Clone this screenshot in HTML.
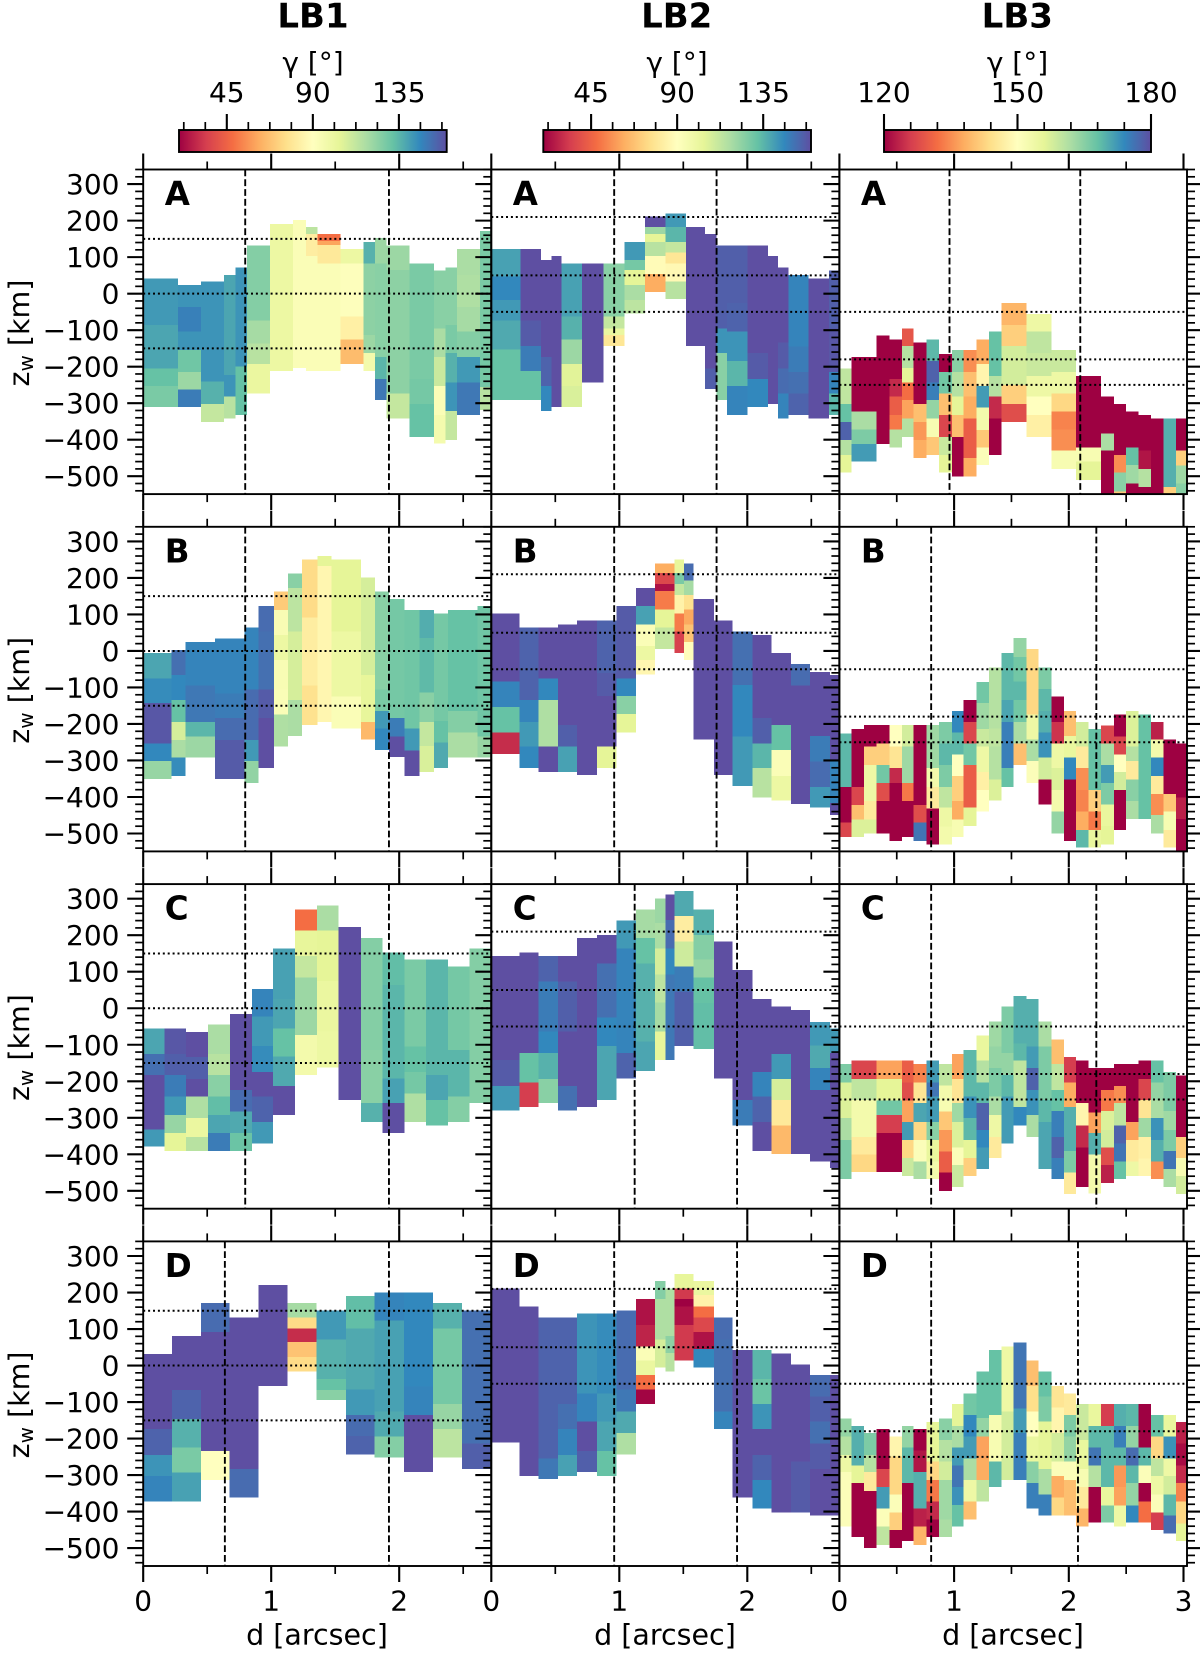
<!DOCTYPE html>
<html>
<head>
<meta charset="utf-8">
<title>Inclination maps LB1 LB2 LB3</title>
<style>
html,body{margin:0;padding:0;background:#fff;width:1200px;height:1660px;overflow:hidden}
svg{display:block;filter:blur(0.35px)}
text{font-family:"DejaVu Sans","Liberation Sans",sans-serif;fill:#000}
</style>
</head>
<body>
<svg id="fig" xmlns="http://www.w3.org/2000/svg" width="1200" height="1660" viewBox="0 0 1200 1660">
<rect x="0" y="0" width="1200" height="1660" fill="#fff"/>
<defs id="defs"></defs>
<text x="313" y="27.5" font-size="34" font-weight="700" text-anchor="middle">LB1</text>
<text x="676.7" y="27.5" font-size="34" font-weight="700" text-anchor="middle">LB2</text>
<text x="1017.3" y="27.5" font-size="34" font-weight="700" text-anchor="middle">LB3</text>
<text x="313" y="72" font-size="28" text-anchor="middle">γ [°]</text>
<text x="677" y="72" font-size="28" text-anchor="middle">γ [°]</text>
<text x="1017.5" y="72" font-size="28" text-anchor="middle">γ [°]</text>
<text x="317" y="1644.5" font-size="28.5" text-anchor="middle">d [arcsec]</text>
<text x="665" y="1644.5" font-size="28.5" text-anchor="middle">d [arcsec]</text>
<text x="1013" y="1644.5" font-size="28.5" text-anchor="middle">d [arcsec]</text>
<g id="heat"></g>
<g id="axes"></g>
<g id="bars"></g>
</svg>
<script>
// Each column: [d start (arcsec), d end (arcsec), z edges top to bottom (km), gamma per cell (deg)]
const lb1a = [
[0,.27,[42,-86,-205,-253,-311],[142,139,132,128]],
[.27,.45,[24,-36,-104,-154,-214,-262,-311],[143,148,143,130,121,149]],
[.45,.63,[33,-241,-302,-351],[143,136,112]],
[.63,.72,[51,-223,-282,-342],[139,143,115]],
[.72,.81,[71,-200,-332],[143,132]],
[.81,.99,[132,-74,-136,-193,-273],[126,119,115,101]],
[.99,1.17,[191,-212],[100]],
[1.17,1.27,[202,-203],[93]],
[1.27,1.36,[182,163,103,-212],[114,82,93]],
[1.36,1.54,[163,144,133,83,-212],[48,60,80,93]],
[1.54,1.72,[122,83,-63,-125,-193],[100,91,83,66]],
[1.72,1.81,[142,83,-113,-163,-212],[136,124,121,97]],
[1.81,1.90,[152,83,-173,-234,-291],[121,125,135,150]],
[1.90,2.08,[132,65,-273,-342],[121,124,112]],
[2.08,2.27,[83,-234,-302,-392],[128,129,132]],
[2.27,2.36,[63,-95,-173,-253,-332,-410],[125,118,111,93,96]],
[2.36,2.45,[72,-86,-163,-243,-321,-401],[125,128,136,143,112]],
[2.45,2.63,[122,51,-36,-104,-173,-243,-332],[118,117,119,126,142,150]],
[2.63,2.72,[172,-163,-255,-319],[128,129,115]]
];
const lb2a = [
[0,.23,[122,47,-17,-74,-153,-291],[140,146,142,138,132]],
[.23,.39,[122,-74,-143,-212,-291],[160,157,149,132]],
[.39,.47,[92,-173,-253,-321],[160,155,146]],
[.47,.55,[103,-311],[160]],
[.55,.71,[83,-63,-125,-193,-253,-311],[140,136,121,105,107]],
[.71,.875,[83,-243],[160]],
[.875,1.04,[83,-63,-95,-113,-143],[125,112,101,79]],
[1.04,1.20,[142,92,65,24,-17,-54],[142,129,104,118,114]],
[1.20,1.36,[211,182,163,142,103,54,5],[160,121,104,115,88,62]],
[1.36,1.52,[220,182,142,112,83,33,-15],[142,135,112,79,87,115]],
[1.52,1.67,[182,-143],[160]],
[1.67,1.76,[163,-205,-261],[160,156]],
[1.76,1.84,[132,-95,-163,-291],[156,143,125]],
[1.84,2.0,[132,-26,-104,-184,-253,-332],[156,155,143,135,147]],
[2.0,2.16,[132,-163,-234,-311],[160,157,146]],
[2.16,2.24,[103,-302],[160]],
[2.24,2.32,[72,-134,-205,-273,-342],[160,157,153,147]],
[2.32,2.48,[51,-145,-214,-273,-332],[147,149,152,155]],
[2.48,2.64,[42,-342],[160]],
[2.64,2.72,[63,-95,-214,-273,-332],[156,158,147,135]]
];
const lb3a = [
[0,.105,[-205,-302,-352,-401,-442,-490],[160,168,178,161,156]],
[.105,.325,[-174,-323,-372,-412,-460],[120,162,166,172]],
[.325,.436,[-114,-412],[120]],
[.436,.544,[-125,-234,-282,-332,-372,-421],[120,124,130,133,161]],
[.544,.648,[-95,-143,-203,-243,-291,-342,-392],[129,161,156,132,137,161]],
[.648,.759,[-134,-302,-352,-401,-450],[120,140,136,138]],
[.759,.869,[-125,-184,-243,-291,-342,-392,-442],[169,178,175,164,152,141]],
[.869,.98,[-165,-214,-273,-332,-392,-442,-490],[120,167,140,127,159,156]],
[.98,1.084,[-154,-214,-282,-332,-392,-501],[165,161,156,140,120]],
[1.084,1.195,[-154,-214,-282,-342,-401,-450,-501],[135,140,138,130,130,138]],
[1.195,1.305,[-125,-193,-253,-312,-373,-421,-469],[138,148,172,153,141,151]],
[1.305,1.413,[-104,-225,-282,-342,-442],[168,161,124,120]],
[1.413,1.631,[-26,-86,-143,-250,-302,-351],[139,142,158,142,128]],
[1.631,1.849,[-56,-104,-163,-225,-282,-332,-392],[154,160,159,154,150,147]],
[1.849,2.064,[-154,-214,-273,-323,-372,-430,-480],[159,154,143,134,135,152]],
[2.064,2.279,[-225,-421,-460,-510],[120,152,156]],
[2.279,2.392,[-282,-383,-430,-549],[120,162,120]],
[2.392,2.5,[-302,-442,-490,-542,-549],[120,135,165,141]],
[2.5,2.608,[-323,-421,-469,-520,-549],[120,168,163,120]],
[2.608,2.715,[-332,-430,-480,-529,-549],[120,122,161,120]],
[2.715,2.826,[-342,-549],[120]],
[2.826,2.933,[-342,-529,-549],[170,142]],
[2.933,3.04,[-342,-430,-471,-520,-549],[120,142,163,165]]
];
const lb1b = [
[0,.22,[-6,-75,-143,-253,-301,-351],[139,145,158,146,122]],
[.22,.33,[3,-66,-134,-194,-244,-292,-342],[152,146,132,108,118,145]],
[.33,.56,[24,-95,-194,-235,-292],[147,150,135,121]],
[.56,.79,[34,-116,-184,-244,-351],[147,149,153,157]],
[.79,.90,[64,-105,-244,-301,-361],[147,153,142,123]],
[.90,1.02,[123,53,-105,-184,-321],[153,152,157,160]],
[1.02,1.13,[163,112,44,-25,-105,-174,-262],[70,94,100,94,93,117]],
[1.13,1.24,[212,172,53,-134,-233],[125,114,108,118]],
[1.24,1.36,[251,91,-95,-203],[75,82,77]],
[1.36,1.47,[260,233,-194],[104,86]],
[1.47,1.70,[251,53,-125,-212],[104,100,93]],
[1.70,1.81,[201,-66,-194,-242],[108,103,65]],
[1.81,1.92,[163,-105,-164,-212,-271],[125,128,142,146]],
[1.92,2.04,[142,-184,-235,-291],[129,149,160]],
[2.04,2.16,[112,-212,-273,-342],[130,142,160]],
[2.16,2.27,[112,35,-114,-194,-260,-331],[137,134,125,112,107]],
[2.27,2.38,[103,-192,-251,-321],[129,132,138]],
[2.38,2.61,[112,-164,-224,-292],[132,126,118]],
[2.61,2.72,[123,-235,-292],[130,122]]
];
const lb2b = [
[0,.22,[103,-84,-153,-224,-282],[160,147,132,30]],
[.22,.37,[64,-134,-194,-262,-321],[155,147,142,146]],
[.37,.52,[64,-75,-134,-262,-331],[160,146,117,160]],
[.52,.67,[73,-203,-262,-331],[160,156,140]],
[.67,.825,[83,-340],[160]],
[.825,.98,[83,-61,-123,-262,-321],[155,157,160,104]],
[.98,1.13,[123,-75,-123,-173,-224],[157,146,125,104]],
[1.13,1.28,[172,123,73,14,-25,-64],[160,140,93,100,86]],
[1.28,1.43,[240,213,184,164,114,64,5],[62,37,24,51,104,112]],
[1.43,1.505,[251,213,184,153,103,53,-5],[103,128,112,84,51,35]],
[1.505,1.58,[240,193,153,114,73,25,-25],[153,119,77,61,68,89]],
[1.58,1.74,[142,-242],[160]],
[1.74,1.885,[83,-340],[160]],
[1.885,2.04,[53,-93,-235,-370],[152,146,142]],
[2.04,2.19,[44,-184,-253,-321,-401],[160,156,135,115]],
[2.19,2.34,[-5,-203,-271,-342,-410],[160,132,93,100]],
[2.34,2.49,[-36,-95,-419],[153,160]],
[2.49,2.645,[-57,-233,-303,-372,-429],[160,149,153,142]],
[2.645,2.72,[-66,-303,-417,-449],[160,147,160]]
];
const lb3b = [
[0,.105,[-226,-372,-470,-509],[169,120,127]],
[.105,.215,[-214,-372,-422,-461,-509],[120,127,140,157]],
[.215,.325,[-203,-262,-312,-411,-461,-500],[120,142,154,146,157]],
[.325,.436,[-203,-253,-312,-361,-411,-500],[120,142,167,128,120]],
[.436,.544,[-203,-262,-321,-361,-520],[150,145,124,120]],
[.544,.648,[-203,-262,-361,-411,-509],[158,163,133,120]],
[.648,.759,[-203,-422,-470,-520],[120,128,176]],
[.759,.869,[-203,-321,-372,-431,-530],[163,153,146,120]],
[.869,.98,[-194,-253,-312,-372,-429,-481,-530],[166,169,166,160,154,153]],
[.98,1.084,[-164,-224,-283,-342,-411,-461,-509],[174,169,150,142,138,152]],
[1.084,1.195,[-134,-194,-253,-312,-429,-479],[120,127,167,130,156]],
[1.195,1.305,[-85,-143,-214,-262,-331,-381,-440],[167,163,159,154,147,150]],
[1.305,1.413,[-45,-212,-262,-352,-410],[161,160,161,157]],
[1.413,1.52,[-5,-134,-194,-321,-372],[169,171,175,168]],
[1.52,1.631,[35,-16,-84,-134,-194,-253,-312],[164,167,169,167,162,140]],
[1.631,1.738,[5,-174,-242,-301,-361],[143,154,162,151]],
[1.738,1.849,[-45,-104,-164,-224,-292,-352,-420],[166,169,170,173,158,120]],
[1.849,1.956,[-125,-194,-253,-321,-381,-440,-500],[120,125,154,157,153,164]],
[1.956,2.064,[-164,-233,-292,-352,-520],[140,155,174,120]],
[2.064,2.172,[-194,-262,-321,-381,-440,-490,-539],[158,146,135,134,138,169]],
[2.172,2.279,[-214,-381,-440,-490,-539],[168,142,133,155]],
[2.279,2.392,[-204,-253,-312,-361,-420,-480,-530],[127,162,172,166,155,156]],
[2.392,2.5,[-174,-235,-283,-332,-381,-490],[120,127,150,158,120]],
[2.5,2.608,[-164,-262,-301,-352,-411,-460],[157,161,146,165,162]],
[2.608,2.715,[-174,-460],[168]],
[2.715,2.826,[-194,-242,-292,-342,-392,-449,-500],[123,153,174,146,135,162]],
[2.826,2.933,[-242,-392,-440,-490,-539],[120,141,152,146]],
[2.933,3.04,[-253,-401,-460,-549],[120,123,120]]
];
const lb1c = [
[0,.167,[-56,-125,-183,-332,-379],[139,152,160,142]],
[.167,.333,[-56,-125,-183,-242,-292,-342,-391],[158,156,149,142,122,104]],
[.333,.505,[-65,-134,-194,-242,-301,-352,-391],[160,156,160,117,101,115]],
[.505,.677,[-44,-125,-183,-242,-292,-342,-391],[118,115,125,133,139,149]],
[.677,.85,[-16,-224,-283,-342,-391],[160,153,138,131]],
[.85,1.016,[53,-23,-103,-174,-242,-312,-370],[147,142,145,160,155,142]],
[1.016,1.187,[163,25,-55,-132,-213,-292],[140,139,132,138,160]],
[1.187,1.357,[271,213,143,84,-73,-183],[48,103,112,121,97]],
[1.357,1.526,[281,213,75,-64,-162],[118,104,101,100]],
[1.526,1.70,[222,-251],[160]],
[1.70,1.87,[192,-114,-260,-311],[126,125,136]],
[1.87,2.04,[153,64,-192,-260,-341],[133,135,140,160]],
[2.04,2.21,[134,-105,-174,-233,-311],[128,132,129,117]],
[2.21,2.38,[134,-183,-251,-321],[135,139,132]],
[2.38,2.55,[114,-114,-242,-311],[129,135,126]],
[2.55,2.72,[163,-260],[126]]
];
const lb2c = [
[0,.22,[143,-142,-213,-280],[160,157,142]],
[.22,.37,[153,-123,-203,-271],[160,132,34]],
[.37,.52,[143,73,-64,-123,-194,-260],[155,149,146,136,125]],
[.52,.67,[143,73,-64,-213,-280],[160,156,160,152]],
[.67,.825,[192,-271],[160]],
[.825,.98,[201,123,-26,-103,-251],[160,152,146,139]],
[.98,1.13,[240,164,18,-123,-192],[142,147,147,155]],
[1.13,1.28,[271,192,123,-91,-172],[119,132,136,139]],
[1.28,1.36,[300,233,164,93,16,-64,-142],[121,118,108,114,119,103]],
[1.36,1.43,[311,242,164,93,-142],[160,153,146,150]],
[1.43,1.58,[321,253,183,114,46,-103],[138,82,110,149,156]],
[1.58,1.74,[271,201,134,84,14,-112],[136,126,122,132,133]],
[1.74,1.885,[183,-192],[160]],
[1.885,2.04,[105,-251,-321],[160,149]],
[2.04,2.19,[25,-174,-242,-311,-391],[160,147,155,160]],
[2.19,2.34,[5,-125,-194,-251,-321,-399],[160,142,108,80,65]],
[2.34,2.49,[-5,-399],[160]],
[2.49,2.645,[-37,-102,-164,-224,-420],[142,138,147,160]],
[2.645,2.72,[-55,-123,-438],[142,160]]
];
const lb3c = [
[0,.105,[-153,-203,-253,-301,-361,-468],[166,157,157,162,166]],
[.105,.325,[-143,-194,-251,-352,-400,-449],[127,160,153,146,143]],
[.325,.544,[-143,-194,-253,-292,-342,-449],[137,156,167,126,120]],
[.544,.648,[-143,-203,-253,-311,-361,-410,-459],[130,128,137,172,143,159]],
[.648,.759,[-153,-203,-260,-311,-361,-420,-468],[134,145,171,143,151,162]],
[.759,.869,[-143,-203,-242,-311,-361,-420,-468],[172,176,172,165,155,153]],
[.869,.98,[-153,-212,-253,-283,-333,-393,-450,-500],[160,153,152,141,136,130,120]],
[.98,1.084,[-125,-194,-260,-311,-381,-429,-489],[137,145,163,157,151,159]],
[1.084,1.195,[-114,-242,-301,-361,-410,-459],[169,173,169,156,142]],
[1.195,1.305,[-75,-143,-203,-260,-333,-381,-440],[155,161,169,178,174,172]],
[1.305,1.413,[-36,-105,-164,-242,-292,-352,-410],[163,164,166,162,154,146]],
[1.413,1.52,[5,-123,-183,-242,-370],[166,164,169,172]],
[1.52,1.631,[34,-96,-143,-271,-321],[170,169,160,174]],
[1.631,1.738,[25,-105,-164,-224,-292,-352],[170,172,178,173,162]],
[1.738,1.849,[-36,-105,-251,-311,-440],[162,166,169,171]],
[1.849,1.956,[-85,-153,-224,-281,-352,-410,-468],[140,160,168,175,178,175]],
[1.956,2.064,[-134,-203,-271,-391,-450,-509],[126,138,170,166,146]],
[2.064,2.172,[-143,-260,-321,-381,-489],[120,148,124,120]],
[2.172,2.279,[-163,-285,-342,-400,-507],[120,137,170,153]],
[2.279,2.392,[-163,-224,-281,-333,-381,-429,-479],[120,133,157,158,128,123]],
[2.392,2.5,[-153,-213,-260,-321,-370,-420,-468],[120,135,160,178,176,168]],
[2.5,2.608,[-153,-312,-361,-420,-459],[120,137,146,154]],
[2.608,2.715,[-143,-194,-251,-301,-352,-411,-459],[120,127,145,163,147,148]],
[2.715,2.826,[-143,-203,-251,-301,-361,-420,-468],[168,164,162,173,170,135]],
[2.826,2.933,[-174,-251,-281,-333,-391,-440,-489],[166,166,163,166,176,162]],
[2.933,3.04,[-184,-352,-410,-459,-509],[120,142,152,158]]
];
const lb1d = [
[0,.224,[32,-174,-245,-302,-372],[160,155,143,147]],
[.224,.45,[81,-67,-146,-225,-293,-372],[160,155,136,128,140]],
[.45,.675,[171,92,-234,-313],[153,160,90]],
[.675,.90,[131,-283,-361],[160,153]],
[.90,1.128,[220,-56],[160]],
[1.128,1.352,[171,131,102,64,23,-16],[119,75,30,68,75]],
[1.352,1.583,[151,72,-37,-67,-95],[142,136,132,125]],
[1.583,1.807,[191,102,-65,-135,-193,-243],[133,138,142,153,155]],
[1.807,2.036,[200,123,-126,-195,-252],[147,140,138,126]],
[2.036,2.266,[200,-58,-135,-292],[146,147,160]],
[2.266,2.49,[171,102,-106,-174,-252],[136,129,122,114]],
[2.49,2.72,[151,-213,-283],[152,156]]
];
const lb2d = [
[0,.22,[211,-211],[160]],
[.22,.37,[162,-302],[160]],
[.37,.52,[131,-254,-311],[155,150]],
[.52,.67,[131,-105,-174,-245,-302],[155,152,147,140]],
[.67,.825,[142,-76,-153,-234,-292],[143,147,160,156]],
[.825,.98,[142,-76,-153,-234,-302],[145,142,139,132]],
[.98,1.13,[151,-65,-126,-185,-243],[153,150,138,117]],
[1.13,1.28,[182,111,52,14,-26,-65,-105],[24,28,93,101,48,21]],
[1.28,1.36,[231,182,72,34,-5],[126,117,108,108]],
[1.36,1.43,[211,81,34,-16],[117,124,115]],
[1.43,1.58,[251,211,182,162,111,14],[103,33,20,24,33]],
[1.58,1.74,[231,193,162,131,92,45,-5],[101,84,48,37,24,146]],
[1.74,1.885,[131,72,-126,-174],[153,152,147]],
[1.885,2.04,[43,-362],[160]],
[2.04,2.19,[43,-37,-105,-174,-245,-313,-392],[135,131,143,160,155,146]],
[2.19,2.34,[33,-402],[160]],
[2.34,2.49,[3,-263,-402],[160,157]],
[2.49,2.645,[-26,-85,-153,-213,-283,-411],[153,156,152,157,160]],
[2.645,2.72,[-26,-411],[160]]
];
const lb3d = [
[0,.105,[-145,-195,-245,-292,-441],[164,161,154,151]],
[.105,.215,[-165,-274,-322,-470],[170,156,120]],
[.215,.325,[-185,-245,-292,-343,-500],[166,161,146,120]],
[.325,.436,[-174,-283,-333,-392,-441,-491],[120,127,172,151,160]],
[.436,.544,[-195,-249,-353,-402,-450,-500],[148,143,151,142,120]],
[.544,.648,[-165,-225,-322,-480],[164,169,120]],
[.648,.759,[-174,-233,-292,-392,-441,-491],[120,122,170,123,139]],
[.759,.869,[-154,-263,-313,-373,-421,-470],[156,143,133,124,120]],
[.869,.98,[-145,-204,-263,-313,-421,-470],[165,161,158,163,162]],
[.98,1.084,[-105,-165,-225,-274,-333,-382,-441],[156,162,172,176,173,168]],
[1.084,1.195,[-76,-135,-195,-254,-313,-373,-421],[167,174,172,162,154,140]],
[1.195,1.305,[-16,-144,-195,-254,-313,-373],[168,164,137,138,160]],
[1.305,1.413,[43,-135,-263,-333],[168,152,169]],
[1.413,1.52,[52,-126,-313],[154,158]],
[1.52,1.631,[63,-117,-185,-313],[176,172,175]],
[1.631,1.738,[14,-56,-126,-195,-263,-322,-392],[140,144,150,155,165,175]],
[1.738,1.849,[-16,-85,-153,-213,-283,-353,-411],[168,166,156,156,162,175]],
[1.849,1.956,[-56,-115,-185,-263,-303,-362,-411],[145,148,158,151,138,143]],
[1.956,2.064,[-76,-135,-195,-263,-313,-411],[146,166,164,151,140]],
[2.064,2.172,[-105,-204,-283,-333,-392,-441],[159,155,152,146,139]],
[2.172,2.279,[-105,-165,-225,-274,-333,-430],[155,169,176,161,120]],
[2.279,2.392,[-105,-165,-333,-383,-430],[126,169,155,166]],
[2.392,2.5,[-105,-165,-225,-274,-333,-383,-441],[170,175,169,136,137,154]],
[2.5,2.608,[-105,-165,-225,-274,-322,-383,-430],[169,164,177,169,164,174]],
[2.608,2.715,[-105,-225,-274,-322,-373,-430],[120,169,151,120,132]],
[2.715,2.826,[-135,-195,-254,-303,-353,-402,-450],[168,143,160,154,151,126]],
[2.826,2.933,[-135,-195,-254,-303,-353,-411,-460],[155,173,154,158,169,177]],
[2.933,3.04,[-154,-213,-274,-322,-373,-432,-480],[123,121,124,134,143,156]]
];

// Reference lines (vertical d in arcsec, horizontal z in km)
const lb1Dots = [150,0,-150];
const lb2Dots = [210,50,-50];
const lb3Dots = [-50,-180,-250];
const dashLb1a = [.797,1.92];
const dashLb1b = [.797,1.92];
const dashLb1c = [.797,1.92];
const dashLb1d = [.638,1.92];
const dashLb2a = [.96,1.76];
const dashLb2b = [.96,1.76];
const dashLb2c = [1.12,1.92];
const dashLb2d = [.96,1.92];
const dashLb3a = [.96,2.10];
const dashLb3b = [.80,2.24];
const dashLb3c = [.80,2.24];
const dashLb3d = [.80,2.08];

// Tick labels
const yTickLabels = [300,200,100,0,-100,-200,-300,-400,-500];
const xTickLabelsLb = [0,1,2];
const xTickLabelsLb3 = [0,1,2,3];
const cbarLabelsInc = [45,90,135];
const cbarLabelsLb3 = [120,150,180];
const rowLetters = ['A','B','C','D'];

// Spectral colormap anchors
const spectral = ['#9e0142','#d53e4f','#f46d43','#fdae61','#fee08b','#ffffbf','#e6f598','#abdda4','#66c2a5','#3288bd','#5e4fa2'];

// Layout
const colLeft = [143.2,491.3,839.4];
const colWidth = [348,348,347.6];
const colScale = [128,128,114.7];
const colVmin = [20,20,120];
const colVmax = [160,160,180];
const rowTop = [169.5,526.8,884.1,1241.4];
const panelH = 324.6;
const zTop = 340, zBot = -549;
const pxPerKm = panelH/(zTop-zBot);

const grid = [
 [lb1a,lb1b,lb1c,lb1d],
 [lb2a,lb2b,lb2c,lb2d],
 [lb3a,lb3b,lb3c,lb3d]
];
const dashGrid = [
 [dashLb1a,dashLb1b,dashLb1c,dashLb1d],
 [dashLb2a,dashLb2b,dashLb2c,dashLb2d],
 [dashLb3a,dashLb3b,dashLb3c,dashLb3d]
];
const dotGrid = [lb1Dots,lb2Dots,lb3Dots];

const NS = 'http://www.w3.org/2000/svg';
function mk(tag, attrs, parent){
  const e = document.createElementNS(NS, tag);
  for(const k in attrs){ e.setAttribute(k, attrs[k]); }
  parent.appendChild(e);
  return e;
}
function hex(c){ return [parseInt(c.slice(1,3),16),parseInt(c.slice(3,5),16),parseInt(c.slice(5,7),16)]; }
function colorOf(g,vmin,vmax){
  let t = (g-vmin)/(vmax-vmin)*10;
  t = Math.max(0,Math.min(10,t));
  const i = Math.min(9,Math.floor(t));
  const f = t-i;
  const a = hex(spectral[i]), b = hex(spectral[i+1]);
  return 'rgb('+[0,1,2].map(function(k){return Math.round(a[k]+(b[k]-a[k])*f);}).join(',')+')';
}
function xOf(c,d){ return colLeft[c]+d*colScale[c]; }
function yOf(r,z){ return rowTop[r]+(zTop-z)*pxPerKm; }

const defs = document.getElementById('defs');
const heat = document.getElementById('heat');
const axes = document.getElementById('axes');
const bars = document.getElementById('bars');

// Heatmaps and reference lines
grid.forEach(function(colPanels,c){
  colPanels.forEach(function(cells,r){
    const clipId = 'clip'+c+r;
    const cp = mk('clipPath',{id:clipId},defs);
    mk('rect',{x:colLeft[c],y:rowTop[r],width:colWidth[c],height:panelH},cp);
    const g = mk('g',{'clip-path':'url(#'+clipId+')'},heat);
    
    
    cells.forEach(function(col){
      const x0 = xOf(c,col[0]), x1 = xOf(c,col[1]);
      col[3].forEach(function(val,i){
        const y0 = yOf(r,col[2][i]), y1 = yOf(r,col[2][i+1]);
        const cell = mk('rect',{x:x0,y:y0,width:x1-x0,height:y1-y0,fill:colorOf(val,colVmin[c],colVmax[c]),'shape-rendering':'crispEdges'},g);
        
        
      });
    });
    dotGrid[c].forEach(function(z){
      const l = mk('line',{x1:colLeft[c],x2:colLeft[c]+colWidth[c],y1:yOf(r,z),y2:yOf(r,z),stroke:'#000','stroke-width':2,'stroke-dasharray':'2 2.9'},g);
      
      
    });
    dashGrid[c][r].forEach(function(d){
      const l = mk('line',{x1:xOf(c,d),x2:xOf(c,d),y1:rowTop[r],y2:rowTop[r]+panelH,stroke:'#000','stroke-width':1.9,'stroke-dasharray':'6.8 3'},g);
      
      
    });
  });
});

// Axes: spines, ticks, labels
function tick(x1,y1,x2,y2,major){
  const t = mk('line',{x1:x1,y1:y1,x2:x2,y2:y2,stroke:'#000','stroke-width':major?2.1:1.7},axes);
  
  
}
for(let c=0;c<3;c++){
  for(let r=0;r<4;r++){
    const L = colLeft[c], W = colWidth[c], T = rowTop[r], B = T+panelH;
    const sp = mk('rect',{x:L,y:T,width:W,height:panelH,fill:'none',stroke:'#000','stroke-width':1.9},axes);
    
    
    // x ticks every 0.5 arcsec
    const maxD = W/colScale[c];
    for(let k=0;k*0.5<=maxD+0.001;k++){
      const x = xOf(c,k*0.5), maj = k%2===0, len = maj?16:8;
      tick(x,T,x,T-len,maj);
      tick(x,B,x,B+len,maj);
    }
    // y ticks every 20 km
    for(let z=340;z>=-540;z-=20){
      const y = yOf(r,z), maj = z%100===0, len = maj?16:8;
      tick(L,y,L-len,y,maj);
      if(c===2){ tick(L+W,y,L+W+len,y,maj); }
    }
    const letter = mk('text',{x:L+21.5,y:T+35.5,'font-size':32.5,'font-weight':700},axes);
    letter.textContent = rowLetters[r];
    
    
  }
}
// y tick labels and titles in first column
rowTop.forEach(function(T,r){
  yTickLabels.forEach(function(v){
    const t = mk('text',{x:119.5,y:yOf(r,v)+10,'font-size':28,'text-anchor':'end'},axes);
    t.textContent = String(v).replace('-','\u2212');
    
    
  });
  const cy = T+163.5;
  const yt = mk('text',{transform:'translate(29,'+cy+') rotate(-90)','font-size':28.5,'text-anchor':'middle'},axes);
  
  
  const a = mk('tspan',{},yt); a.textContent = 'z';
  const b = mk('tspan',{'font-size':20,dy:4},yt); b.textContent = 'w';
  const d = mk('tspan',{dy:-4},yt); d.textContent = ' [km]';
});
// x tick labels on bottom row
[xTickLabelsLb,xTickLabelsLb,xTickLabelsLb3].forEach(function(labels,c){
  labels.forEach(function(v){
    const t = mk('text',{x:xOf(c,v),y:1610.5,'font-size':28,'text-anchor':'middle'},axes);
    t.textContent = String(v);
    
    
  });
});

// Colorbars
const barLeft = [179,543.3,884];
const barWidth = [267.7,267.7,267];
const barTop = 130, barH = 22;
const barMinorStep = [11.25,11.25,6];
const barMajorStep = [45,45,30];
const barLabels = [cbarLabelsInc,cbarLabelsInc,cbarLabelsLb3];
barLeft.forEach(function(bl,c){
  const gid = 'cbar'+c;
  const lg = mk('linearGradient',{id:gid,x1:0,x2:1,y1:0,y2:0},defs);
  spectral.forEach(function(col,i){ mk('stop',{offset:(i/10),'stop-color':col},lg); });
  const rect = mk('rect',{x:bl,y:barTop,width:barWidth[c],height:barH,fill:'url(#'+gid+')',stroke:'#000','stroke-width':1.9},bars);
  
  
  const vmin = colVmin[c], vmax = colVmax[c];
  const gx = function(v){ return bl+(v-vmin)/(vmax-vmin)*barWidth[c]; };
  const step = barMinorStep[c], mstep = barMajorStep[c];
  const start = Math.ceil(vmin/step-1e-9)*step;
  for(let v=start;v<=vmax+1e-6;v+=step){
    const maj = Math.abs(v/mstep-Math.round(v/mstep))<1e-6;
    const t = mk('line',{x1:gx(v),x2:gx(v),y1:barTop,y2:barTop-(maj?16:8),stroke:'#000','stroke-width':maj?2.1:1.7},bars);
    
    
  }
  barLabels[c].forEach(function(v){
    const t = mk('text',{x:gx(v),y:102,'font-size':28,'text-anchor':'middle'},bars);
    t.textContent = String(v);
    
    
  });
});
</script>
</body>
</html>
